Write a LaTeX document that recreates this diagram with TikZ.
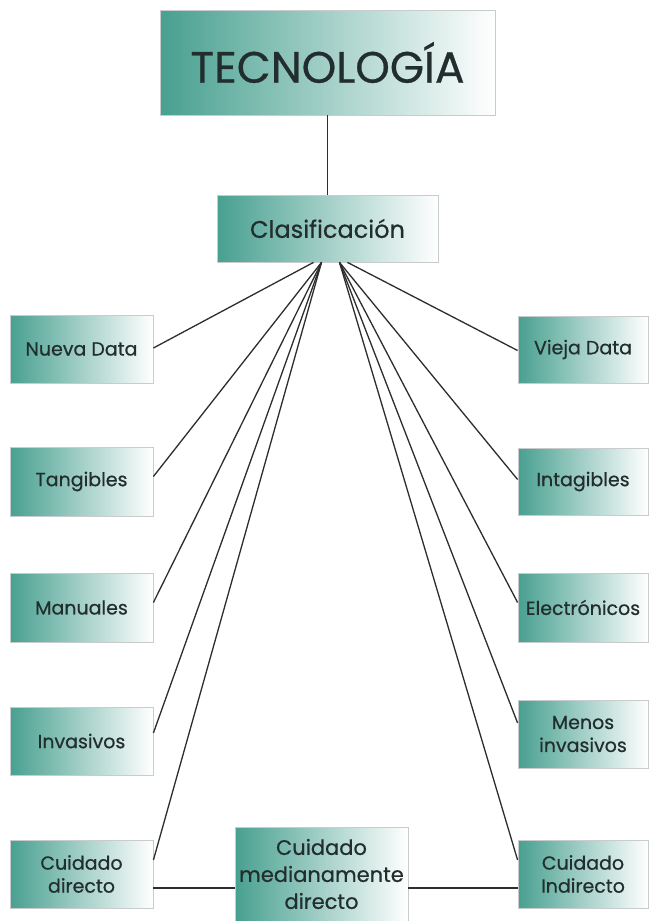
\documentclass[tikz,border=0pt]{standalone}
\usepackage{fontspec}
\setmainfont{Poppins}[FakeBold=0.6]
\usetikzlibrary{calc}
\definecolor{tealA}{RGB}{72,160,144}
\definecolor{txt}{RGB}{34,46,46}
\definecolor{edge}{RGB}{200,204,204}
\definecolor{lnk}{RGB}{45,45,45}
\tikzset{
  box/.style={draw=edge, line width=0.8pt, left color=tealA, right color=white,
    text=txt, align=center, inner sep=1pt, font=\fontsize{19}{23}\selectfont},
  link/.style={draw=lnk, line width=1.3pt}
}
\begin{document}
\begin{tikzpicture}[x=1pt,y=-1pt]
\useasboundingbox (0,0) rectangle (648,921);
\fill[white] (0,0) rectangle (648,921);
\node[box, minimum width=335pt, minimum height=105pt, font=\fontsize{44}{50}\selectfont] (tec) at (327.5,62.5) {TECNOLOGÍA};
\node[box, minimum width=221pt, minimum height=67pt, font=\fontsize{24}{28}\selectfont] (clas) at (327.5,228.5) {Clasificación};
% left column
\node[box, minimum width=143pt, minimum height=68pt] (nueva) at (81.5,349) {Nueva Data};
\node[box, minimum width=143pt, minimum height=69pt] (tang) at (81.5,481.5) {Tangibles};
\node[box, minimum width=143pt, minimum height=69pt] (man) at (81.5,607.5) {Manuales};
\node[box, minimum width=143pt, minimum height=68pt] (inv) at (81.5,741) {Invasivos};
\node[box, minimum width=143pt, minimum height=68pt] (cd) at (81.5,874) {Cuidado\\directo};
% right column
\node[box, minimum width=130pt, minimum height=67pt] (vieja) at (583,349.5) {Vieja Data};
\node[box, minimum width=130pt, minimum height=67pt] (intag) at (583,481.5) {Intagibles};
\node[box, minimum width=130pt, minimum height=69pt] (elec) at (583,607.5) {Electrónicos};
\node[box, minimum width=130pt, minimum height=68pt] (menos) at (583,734) {Menos\\invasivos};
\node[box, minimum width=130pt, minimum height=68pt] (ci) at (583,874) {Cuidado\\Indirecto};
% bottom middle
\node[box, minimum width=173pt, minimum height=94pt, font=\fontsize{21}{27}\selectfont] (mid) at (321.5,874) {Cuidado\\medianamente\\directo};
% connectors
\draw[link] (tec.south) -- (clas.north);
\coordinate (cla) at ($(clas.south)+(-14,0)$);
\coordinate (clb) at ($(clas.south)+(-6,0)$);
\coordinate (cra) at ($(clas.south)+(20,0)$);
\coordinate (crb) at ($(clas.south)+(12,0)$);
\draw[link] (cla) -- ($(nueva.east)+(0,-1)$);
\draw[link] (clb) -- ($(tang.east)+(0,-5)$);
\draw[link] (clb) -- ($(man.east)+(0,-5)$);
\draw[link] (clb) -- ($(inv.east)+(0,-8)$);
\draw[link] (clb) -- ($(cd.east)+(0,-14)$);
\draw[link] (cra) -- ($(vieja.west)+(0,1)$);
\draw[link] (crb) -- ($(intag.west)+(0,-2)$);
\draw[link] (crb) -- ($(elec.west)+(0,-5)$);
\draw[link] (crb) -- ($(menos.west)+(0,-11)$);
\draw[link] (crb) -- ($(ci.west)+(0,-14)$);
\draw[link] ($(cd.east)+(0,14)$) -- ($(mid.west)+(0,14)$);
\draw[link] ($(mid.east)+(0,14)$) -- ($(ci.west)+(0,14)$);
\end{tikzpicture}
\end{document}
